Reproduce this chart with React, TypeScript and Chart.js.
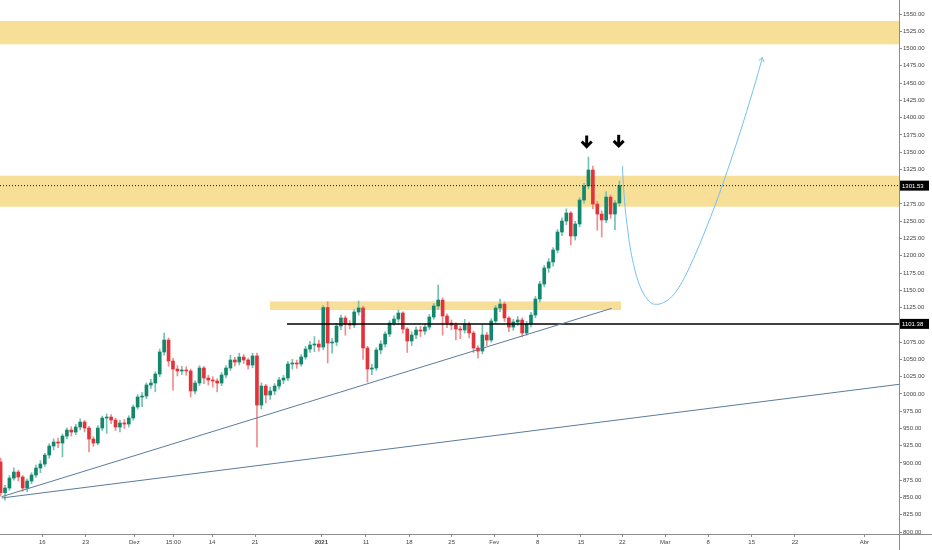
import React, { useEffect, useRef } from 'react';
import { Chart, registerables } from 'chart.js';

Chart.register(...registerables);

// ---- candle data (one candle per slot) ----
const opens = [
  901.4, 857.0, 863.8, 878.2, 886.9, 879.7, 863.8, 873.9, 882.6, 892.7,
  898.5, 911.5, 924.6, 930.3, 928.9, 939.0, 947.7, 944.8, 952.1, 959.3,
  950.6, 934.7, 928.9, 950.6, 965.1, 966.5, 962.2, 952.1, 957.9, 956.4,
  965.1, 981.0, 995.5, 996.9, 1012.9, 1015.8, 1028.8, 1060.7, 1078.0, 1047.6,
  1036.0, 1033.2, 1034.6, 1033.2, 1004.2, 1015.8, 1037.5, 1023.0, 1020.1, 1018.7,
  1015.8, 1027.4, 1037.5, 1049.1, 1046.2, 1053.4, 1049.1, 1041.8, 1055.0, 983.9,
  1011.4, 998.4, 1004.2, 1011.4, 1020.1, 1023.0, 1043.3, 1044.7, 1043.3, 1053.4,
  1065.0, 1070.8, 1072.2, 1067.9, 1125.0, 1073.7, 1075.0, 1098.3, 1109.9, 1101.2,
  1099.7, 1118.6, 1124.4, 1066.5, 1036.0, 1037.5, 1063.6, 1072.2, 1086.7, 1102.6,
  1108.4, 1117.1, 1093.9, 1076.6, 1085.3, 1092.5, 1091.0, 1096.8, 1111.3, 1127.3,
  1135.9, 1112.8, 1102.6, 1099.7, 1093.9, 1092.5, 1101.2, 1088.2, 1066.5, 1062.1,
  1085.3, 1078.0, 1105.5, 1124.4, 1130.1, 1109.9, 1096.8, 1104.1, 1107.0, 1088.2,
  1101.2, 1114.2, 1137.4, 1159.1, 1182.3, 1191.0, 1208.3, 1234.4, 1250.3, 1261.9,
  1228.6, 1246.0, 1280.7, 1301.0, 1324.1, 1274.9, 1260.4, 1251.8, 1285.0, 1260.4,
  1276.4,
];

const closes = [
  857.0, 863.8, 878.2, 886.9, 879.7, 863.8, 873.9, 882.6, 892.7, 898.5,
  911.5, 924.6, 930.3, 928.9, 939.0, 947.7, 944.8, 952.1, 959.3, 950.6,
  934.7, 928.9, 950.6, 965.1, 966.5, 962.2, 952.1, 957.9, 956.4, 965.1,
  981.0, 995.5, 996.9, 1012.9, 1015.8, 1028.8, 1060.7, 1078.0, 1047.6, 1036.0,
  1033.2, 1034.6, 1033.2, 1004.2, 1015.8, 1037.5, 1023.0, 1020.1, 1018.7, 1015.8,
  1027.4, 1037.5, 1049.1, 1046.2, 1053.4, 1049.1, 1041.8, 1055.0, 983.9, 1011.4,
  998.4, 1004.2, 1011.4, 1020.1, 1023.0, 1043.3, 1044.7, 1043.3, 1053.4, 1065.0,
  1070.8, 1072.2, 1067.9, 1125.0, 1073.7, 1075.0, 1098.3, 1109.9, 1101.2, 1099.7,
  1118.6, 1124.4, 1066.5, 1036.0, 1037.5, 1063.6, 1072.2, 1086.7, 1102.6, 1108.4,
  1117.1, 1093.9, 1076.6, 1085.3, 1092.5, 1091.0, 1096.8, 1111.3, 1127.3, 1135.9,
  1112.8, 1102.6, 1099.7, 1093.9, 1092.5, 1101.2, 1088.2, 1066.5, 1062.1, 1085.3,
  1078.0, 1105.5, 1124.4, 1130.1, 1109.9, 1096.8, 1104.1, 1107.0, 1088.2, 1101.2,
  1114.2, 1137.4, 1159.1, 1182.3, 1191.0, 1208.3, 1234.4, 1250.3, 1261.9, 1228.6,
  1246.0, 1280.7, 1301.0, 1324.1, 1274.9, 1260.4, 1251.8, 1285.0, 1260.4, 1276.4,
  1301.53,
];

const highs = [
  907.0, 867.5, 882.0, 893.0, 889.5, 882.0, 877.0, 886.0, 897.0, 903.5,
  914.0, 928.0, 935.0, 936.0, 942.0, 951.0, 952.5, 956.0, 964.0, 962.0,
  953.0, 938.0, 954.0, 968.0, 971.0, 970.0, 965.0, 962.0, 963.0, 968.5,
  984.0, 999.0, 1002.0, 1016.0, 1021.0, 1032.0, 1065.0, 1088.2, 1081.0, 1052.0,
  1041.0, 1040.0, 1039.5, 1036.0, 1019.0, 1041.0, 1040.0, 1027.0, 1025.0, 1022.0,
  1031.0, 1041.0, 1056.0, 1053.0, 1059.0, 1057.0, 1052.0, 1059.0, 1059.2, 1016.0,
  1014.0, 1010.0, 1015.0, 1024.0, 1027.0, 1047.0, 1050.0, 1049.0, 1057.0, 1069.0,
  1076.0, 1083.0, 1078.0, 1128.0, 1133.5, 1080.0, 1102.0, 1114.0, 1113.0, 1106.0,
  1122.0, 1134.5, 1127.0, 1069.0, 1043.0, 1067.0, 1077.0, 1090.0, 1106.0, 1113.0,
  1121.5, 1119.0, 1096.0, 1090.0, 1097.0, 1098.0, 1101.0, 1115.0, 1131.0, 1157.6,
  1139.0, 1116.0, 1107.0, 1103.0, 1098.0, 1108.0, 1104.0, 1091.0, 1070.0, 1100.0,
  1089.0, 1109.0, 1128.0, 1137.4, 1133.0, 1112.0, 1108.0, 1112.0, 1110.0, 1105.0,
  1118.0, 1141.0, 1163.0, 1186.0, 1196.0, 1212.0, 1238.0, 1255.0, 1268.0, 1264.0,
  1250.0, 1284.0, 1305.0, 1343.0, 1330.0, 1279.0, 1265.0, 1292.7, 1288.0, 1280.0,
  1308.2,
];

const lows = [
  852.0, 846.3, 860.5, 875.0, 874.0, 859.0, 858.5, 870.0, 879.0, 886.0,
  895.0, 907.0, 919.0, 922.0, 909.0, 935.0, 939.0, 941.0, 948.0, 945.0,
  916.0, 924.0, 926.0, 947.0, 943.0, 957.0, 947.0, 945.0, 950.0, 952.0,
  962.0, 978.0, 981.5, 993.0, 1008.0, 1003.0, 1025.0, 1056.0, 1040.0, 1005.6,
  1026.0, 1028.0, 1027.0, 995.5, 1000.0, 1012.0, 1015.0, 1013.0, 1010.0, 1003.0,
  1012.0, 1023.0, 1034.0, 1040.0, 1042.0, 1044.0, 1036.0, 1038.0, 923.1, 978.0,
  987.0, 992.0, 999.0, 1007.0, 1015.0, 1019.0, 1036.0, 1037.0, 1040.0, 1050.0,
  1060.0, 1061.0, 1062.0, 1064.0, 1044.7, 1059.0, 1070.0, 1093.0, 1085.0, 1094.0,
  1096.0, 1114.0, 1050.0, 1017.2, 1028.0, 1034.0, 1058.0, 1068.0, 1083.0, 1099.0,
  1104.0, 1088.0, 1060.0, 1070.0, 1080.0, 1083.0, 1086.0, 1093.0, 1108.0, 1122.0,
  1085.0, 1096.0, 1093.0, 1078.0, 1080.0, 1088.0, 1081.0, 1060.0, 1051.8, 1058.0,
  1070.0, 1075.0, 1102.0, 1119.0, 1105.0, 1090.0, 1092.0, 1099.0, 1082.4, 1085.0,
  1097.0, 1110.0, 1133.0, 1155.0, 1176.0, 1185.0, 1204.0, 1229.0, 1245.0, 1215.6,
  1222.8, 1242.0, 1276.0, 1297.0, 1268.0, 1237.0, 1227.1, 1248.0, 1254.0, 1237.3,
  1272.0,
];

// ---- axes ----
const priceTicks = [
  800, 825, 850, 875, 900, 925, 950, 975, 1000, 1025, 1050, 1075, 1100, 1125, 1150, 1175,
  1200, 1225, 1250, 1275, 1300, 1325, 1350, 1375, 1400, 1425, 1450, 1475, 1500, 1525, 1550,
];
const timeTickPos = [
  9.43, 19.25, 30.25, 39.07, 47.83, 57.56, 72.56, 82.67, 92.47, 102.06,
  111.7, 121.52, 131.31, 140.66, 150.38, 160.11, 169.93, 179.73, 195.41,
];
const timeTickLabels = [
  '16', '23', 'Dez', '15:00', '14', '21', '2021', '11', '18', '25',
  'Fev', '8', '15', '22', 'Mar', '8', '15', '22', 'Abr',
];
const boldTimeLabel = '2021';
const xMin = -0.136;
const xMax = 203.26;
const yMin = 797.2;
const yMax = 1570.27;

// ---- drawings ----
const zoneLows = [1506.1, 1271.0, 1121.5];
const zoneHighs = [1539.9, 1315.9, 1134.0];
const zoneStarts: (number | null)[] = [null, null, 60.95];
const zoneEnds: (number | null)[] = [null, null, 140.36];

const trendAX = [0.25, 138.26];
const trendAY = [851.2, 1123.9];
const trendBX = [0.25, 203.26];
const trendBY = [849.3, 1013.9];

const supportLevel = 1101.38;
const supportX = [64.8, 203.26];
const lastPrice = 1301.53;

const curveX = [
  140.66, 140.89, 141.27, 141.79, 142.4, 143.15, 143.91, 145.04, 146.17, 147.3,
  148.43, 149.94, 151.45, 153.33, 155.22, 156.73, 158.24, 159.74, 161.63, 163.51,
  165.4, 167.29, 168.79, 170.3, 171.43, 172.34,
];
const curveY = [
  1329.9, 1304.9, 1271.0, 1242.1, 1213.1, 1189.0, 1169.7, 1150.4, 1138.3, 1131.1,
  1129.7, 1132.1, 1138.3, 1152.9, 1174.6, 1195.6, 1217.7, 1241.6, 1272.7, 1306.0,
  1341.5, 1378.4, 1408.8, 1440.7, 1465.3, 1487.0,
];

const markerX = [132.6, 139.84];
const markerTip = [1356, 1357];

// ---- styles ----
const FONT = 'Liberation Sans, Arial, sans-serif';
const UP = '#12876c';
const DOWN = '#e2333a';
const UP_WICK = '#74c2b1';
const DOWN_WICK = '#f08c8f';
const ZONE = '#f8df98';
const TREND = '#5b7b9d';
const CURVE = '#74c0ee';
const AXIS = '#8c8c8c';
const TEXT = '#444444';

const overlayPlugin = {
  id: 'overlay',
  beforeDatasetsDraw(chart: any) {
    const { ctx, chartArea, scales } = chart;
    const x = scales.x;
    const y = scales.y;
    ctx.save();
    ctx.beginPath();
    ctx.rect(chartArea.left, chartArea.top, chartArea.right - chartArea.left, chartArea.bottom - chartArea.top);
    ctx.clip();
    ctx.fillStyle = ZONE;
    zoneLows.forEach((lo, i) => {
      const s = zoneStarts[i];
      const e = zoneEnds[i];
      const x0 = s == null ? chartArea.left : x.getPixelForValue(s);
      const x1 = e == null ? chartArea.right : x.getPixelForValue(e);
      const yt = y.getPixelForValue(zoneHighs[i]);
      const yb = y.getPixelForValue(lo);
      ctx.fillRect(x0, yt, x1 - x0, yb - yt);
    });
    ctx.restore();
  },
  afterDraw(chart: any) {
    const { ctx, chartArea, scales, width, height } = chart;
    const x = scales.x;
    const y = scales.y;
    ctx.save();
    // axis lines
    ctx.strokeStyle = AXIS;
    ctx.lineWidth = 1;
    ctx.beginPath();
    ctx.moveTo(0, Math.round(chartArea.bottom) + 0.5);
    ctx.lineTo(width, Math.round(chartArea.bottom) + 0.5);
    ctx.moveTo(Math.round(chartArea.right) + 0.5, 0);
    ctx.lineTo(Math.round(chartArea.right) + 0.5, height);
    ctx.stroke();

    // arrowhead at end of curve
    const n = curveX.length;
    const px2 = x.getPixelForValue(curveX[n - 1]);
    const py2 = y.getPixelForValue(curveY[n - 1]);
    const px1 = x.getPixelForValue(curveX[n - 2]);
    const py1 = y.getPixelForValue(curveY[n - 2]);
    const ang = Math.atan2(py2 - py1, px2 - px1);
    const L = 5;
    ctx.strokeStyle = CURVE;
    ctx.lineWidth = 1;
    ctx.beginPath();
    ctx.moveTo(px2 - L * Math.cos(ang - 0.6), py2 - L * Math.sin(ang - 0.6));
    ctx.lineTo(px2, py2);
    ctx.lineTo(px2 - L * Math.cos(ang + 0.6), py2 - L * Math.sin(ang + 0.6));
    ctx.stroke();

    // black down arrows
    ctx.strokeStyle = '#000';
    ctx.lineWidth = 3;
    ctx.lineJoin = 'miter';
    markerX.forEach((mx, i) => {
      const cx = x.getPixelForValue(mx);
      const ty = y.getPixelForValue(markerTip[i]);
      ctx.beginPath();
      ctx.moveTo(cx, ty - 12.5);
      ctx.lineTo(cx, ty - 2);
      ctx.stroke();
      ctx.beginPath();
      ctx.moveTo(cx - 5, ty - 6.5);
      ctx.lineTo(cx, ty - 1.5);
      ctx.lineTo(cx + 5, ty - 6.5);
      ctx.stroke();
    });

    // price tags on axis
    ctx.font = '6px ' + FONT;
    ctx.textBaseline = 'middle';
    ctx.textAlign = 'left';
    [lastPrice, supportLevel].forEach((p) => {
      const py = y.getPixelForValue(p);
      ctx.fillStyle = '#000';
      ctx.fillRect(chartArea.right + 1, py - 5, 29, 10);
      ctx.fillStyle = '#fff';
      ctx.fillText(p.toFixed(2), chartArea.right + 3, py + 0.5);
    });
    ctx.restore();
  },
};

export default function App() {
  const ref = useRef<HTMLCanvasElement | null>(null);

  useEffect(() => {
    const canvas = ref.current;
    if (!canvas) return;

    const bodies = closes.map((c, i) => ({ x: i, y: [opens[i], c] }));
    const wicks = closes.map((_, i) => ({ x: i, y: [lows[i], highs[i]] }));
    const bodyColors = closes.map((c, i) => (c >= opens[i] ? UP : DOWN));
    const wickColors = closes.map((c, i) => (c >= opens[i] ? UP_WICK : DOWN_WICK));

    const chart = new Chart(canvas, {
      type: 'bar',
      data: {
        datasets: [
          {
            type: 'line',
            data: curveX.map((v, i) => ({ x: v, y: curveY[i] })),
            borderColor: CURVE,
            borderWidth: 1,
            pointRadius: 0,
            cubicInterpolationMode: 'monotone',
            order: 0,
          } as any,
          {
            type: 'line',
            data: trendAX.map((v, i) => ({ x: v, y: trendAY[i] })),
            borderColor: TREND,
            borderWidth: 1,
            pointRadius: 0,
            order: 0,
          } as any,
          {
            type: 'line',
            data: trendBX.map((v, i) => ({ x: v, y: trendBY[i] })),
            borderColor: TREND,
            borderWidth: 1,
            pointRadius: 0,
            order: 0,
          } as any,
          {
            type: 'line',
            data: supportX.map((v) => ({ x: v, y: supportLevel })),
            borderColor: '#000',
            borderWidth: 1.5,
            pointRadius: 0,
            order: 0,
          } as any,
          {
            type: 'line',
            data: [xMin, xMax].map((v) => ({ x: v, y: lastPrice })),
            borderColor: '#111',
            borderWidth: 1,
            borderDash: [1, 2],
            pointRadius: 0,
            order: 0,
          } as any,
          {
            type: 'bar',
            data: bodies as any,
            backgroundColor: bodyColors,
            barThickness: 3,
            minBarLength: 1,
            grouped: false,
            order: 1,
          } as any,
          {
            type: 'bar',
            data: wicks as any,
            backgroundColor: wickColors,
            barThickness: 1,
            minBarLength: 1,
            grouped: false,
            order: 2,
          } as any,
        ],
      },
      options: {
        animation: false,
        responsive: false,
        events: [],
        layout: { padding: 0, autoPadding: false } as any,
        plugins: {
          legend: { display: false },
          tooltip: { enabled: false },
        },
        scales: {
          x: {
            type: 'linear',
            min: xMin,
            max: xMax,
            offset: false,
            grid: { display: true, drawOnChartArea: false, drawTicks: true, tickLength: 3, color: AXIS, offset: false },
            border: { display: false },
            afterBuildTicks: (s: any) => {
              s.ticks = timeTickPos.map((v) => ({ value: v }));
            },
            afterFit: (s: any) => {
              s.height = 16;
              s.paddingLeft = 0;
              s.paddingRight = 0;
            },
            ticks: {
              autoSkip: false,
              maxRotation: 0,
              minRotation: 0,
              padding: 2,
              color: TEXT,
              font: (c: any) => ({
                family: FONT,
                size: 6,
                weight: timeTickLabels[c.index] === boldTimeLabel ? 'bold' : 'normal',
              }),
              callback: (_v: any, i: number) => timeTickLabels[i],
            },
          } as any,
          y: {
            type: 'linear',
            position: 'right',
            min: yMin,
            max: yMax,
            beginAtZero: false,
            grid: { display: true, drawOnChartArea: false, drawTicks: true, tickLength: 3, color: AXIS },
            border: { display: false },
            afterBuildTicks: (s: any) => {
              s.ticks = priceTicks.map((v) => ({ value: v }));
            },
            afterFit: (s: any) => {
              s.width = 33;
              s.paddingTop = 0;
              s.paddingBottom = 0;
            },
            ticks: {
              autoSkip: false,
              padding: 1,
              color: TEXT,
              font: { family: FONT, size: 6 },
              callback: (v: any) => Number(v).toFixed(2),
            },
          } as any,
        },
      },
      plugins: [overlayPlugin],
    } as any);

    return () => chart.destroy();
  }, []);

  return (
    <div style={{ position: 'fixed', left: 0, top: 0, width: 932, height: 550, background: '#fff' }}>
      <canvas ref={ref} width={932} height={550} style={{ display: 'block', width: 932, height: 550 }} />
    </div>
  );
}
